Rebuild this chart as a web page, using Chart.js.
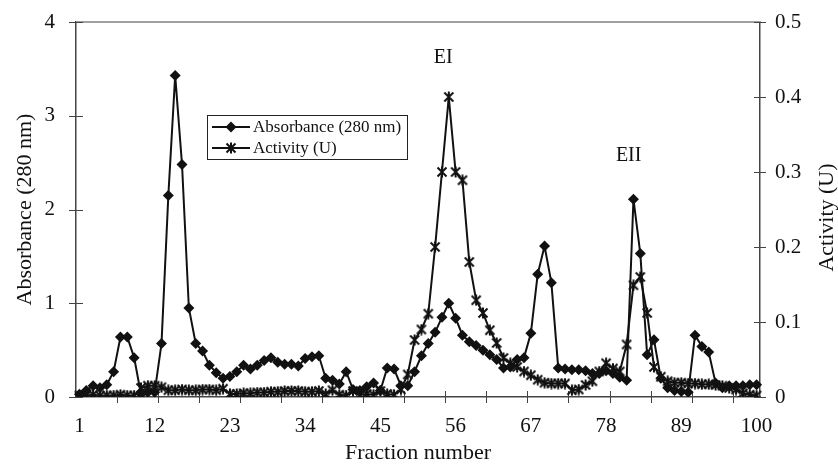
<!DOCTYPE html>
<html>
<head>
<meta charset="utf-8">
<script src="https://cdn.jsdelivr.net/npm/chart.js@4/dist/chart.umd.min.js"></script>
<style>
  html, body { margin: 0; padding: 0; background: #fff; }
  #wrap { width: 838px; height: 468px; position: relative; }
</style>
</head>
<body>
<div id="wrap"><canvas id="chart"></canvas></div>
<script>
// fraction numbers 1..100 (category axis)
const fractions = Array.from({ length: 100 }, (_, i) => i + 1);
const xTickLabels = [1, 12, 23, 34, 45, 56, 67, 78, 89, 100];
const absTicks = [0, 1, 2, 3, 4];
const actTicks = [0, 0.1, 0.2, 0.3, 0.4, 0.5];

// Absorbance at 280 nm
const absorbance = [
  0.03, 0.07, 0.12, 0.10, 0.13, 0.27, 0.64, 0.64, 0.42, 0.03,
  0.05, 0.05, 0.57, 2.15, 3.43, 2.48, 0.95, 0.57, 0.49, 0.34,
  0.26, 0.20, 0.22, 0.27, 0.34, 0.30, 0.34, 0.39, 0.42, 0.37,
  0.35, 0.35, 0.33, 0.41, 0.43, 0.44, 0.20, 0.18, 0.14, 0.27,
  0.08, 0.07, 0.11, 0.15, 0.07, 0.31, 0.30, 0.12, 0.12, 0.27,
  0.44, 0.57, 0.69, 0.85, 1.00, 0.84, 0.66, 0.59, 0.55, 0.50,
  0.45, 0.40, 0.31, 0.32, 0.40, 0.42, 0.68, 1.31, 1.61, 1.22,
  0.31, 0.30, 0.29, 0.29, 0.28, 0.25, 0.25, 0.28, 0.25, 0.21,
  0.18, 2.11, 1.53, 0.45, 0.61, 0.20, 0.10, 0.07, 0.06, 0.05,
  0.66, 0.54, 0.48, 0.15, 0.10, 0.12, 0.12, 0.12, 0.13, 0.13
];

// Enzyme activity (U)
const activity = [
  0.002, 0.002, 0.003, 0.002, 0.002, 0.002, 0.003, 0.002, 0.002, 0.012,
  0.015, 0.015, 0.013, 0.009, 0.009, 0.010, 0.009, 0.009, 0.010, 0.010,
  0.009, 0.011, 0.004, 0.004, 0.005, 0.005, 0.006, 0.006, 0.007, 0.007,
  0.008, 0.008, 0.008, 0.007, 0.007, 0.008, 0.004, 0.009, 0.003, 0.002,
  0.008, 0.003, 0.004, 0.003, 0.008, 0.004, 0.003, 0.010, 0.030, 0.076,
  0.090, 0.111, 0.200, 0.300, 0.400, 0.300, 0.289, 0.180, 0.129, 0.112,
  0.089, 0.072, 0.052, 0.045, 0.040, 0.034, 0.029, 0.023, 0.019, 0.018,
  0.018, 0.018, 0.009, 0.010, 0.016, 0.021, 0.034, 0.045, 0.038, 0.034,
  0.070, 0.149, 0.160, 0.112, 0.040, 0.027, 0.021, 0.019, 0.019, 0.018,
  0.018, 0.017, 0.017, 0.016, 0.015, 0.012, 0.010, 0.005, 0.003, 0.002
];

// peak labels: category index and absorbance height
const peakLabels = [
  { text: 'EI', index: 53.2, abs: 3.62 },
  { text: 'EII', index: 80.3, abs: 2.57 }
];
const rightTitle = 'Activity (U)';

const serif = "'Liberation Serif', 'DejaVu Serif', serif";
const ink = '#111';
const axisColor = '#444';

// excel-like star marker: X with a vertical bar
function starMarker() {
  const c = document.createElement('canvas');
  c.width = 12; c.height = 12;
  const g = c.getContext('2d');
  g.strokeStyle = ink;
  g.lineWidth = 2;
  g.beginPath();
  g.moveTo(1.5, 1.5); g.lineTo(10.5, 10.5);
  g.moveTo(10.5, 1.5); g.lineTo(1.5, 10.5);
  g.moveTo(6, 0.5); g.lineTo(6, 11.5);
  g.stroke();
  return c;
}
const star = starMarker();

// keep the y tick labels from pushing the plot area down
function fixY(width) {
  return s => { s.width = width; s.paddingTop = 0; s.paddingBottom = 0; };
}

// crossing tick marks, light top frame, labels and legend
const frame = {
  id: 'frame',
  beforeDatasetsDraw(chart) {
    const { ctx, chartArea: a, scales: { x, y, y2 } } = chart;
    ctx.save();
    ctx.strokeStyle = '#a0a0a0';
    ctx.lineWidth = 2;
    ctx.beginPath();
    ctx.moveTo(a.left, a.top);
    ctx.lineTo(a.right, a.top);
    ctx.stroke();
    ctx.strokeStyle = axisColor;
    ctx.lineWidth = 1;
    ctx.beginPath();
    for (let b = 6; b < 100; b += 6) {
      const px = Math.round(x.getPixelForValue(b - 0.5)) + 0.5;
      ctx.moveTo(px, a.bottom - 6);
      ctx.lineTo(px, a.bottom + 6);
    }
    absTicks.forEach(v => {
      const py = Math.round(y.getPixelForValue(v)) + 0.5;
      ctx.moveTo(a.left - 7, py);
      ctx.lineTo(a.left + 7, py);
    });
    actTicks.forEach(v => {
      const py = Math.round(y2.getPixelForValue(v)) + 0.5;
      ctx.moveTo(a.right - 6, py);
      ctx.lineTo(a.right + 6, py);
    });
    ctx.stroke();
    ctx.restore();
  },
  afterDraw(chart) {
    const { ctx, chartArea: a, scales: { x, y } } = chart;
    ctx.save();
    ctx.fillStyle = ink;
    ctx.textAlign = 'center';
    ctx.textBaseline = 'middle';
    // peak names
    ctx.font = '20px ' + serif;
    peakLabels.forEach(p => {
      ctx.fillText(p.text, x.getPixelForValue(p.index), y.getPixelForValue(p.abs));
    });
    // right axis title, reading bottom to top
    ctx.save();
    ctx.font = '22px ' + serif;
    ctx.translate(a.right + 67, (a.top + a.bottom) / 2 + 8);
    ctx.rotate(-Math.PI / 2);
    ctx.fillText(rightTitle, 0, 0);
    ctx.restore();
    // legend box
    const lx = a.left + 131, ly = a.top + 93, lw = 200, lh = 44;
    ctx.strokeStyle = '#222';
    ctx.lineWidth = 1;
    ctx.strokeRect(lx + 0.5, ly + 0.5, lw, lh);
    ctx.font = '17px ' + serif;
    ctx.textAlign = 'left';
    chart.data.datasets.forEach((ds, i) => {
      const ry = ly + 12 + i * 21;
      ctx.strokeStyle = ink;
      ctx.lineWidth = 2;
      ctx.beginPath();
      ctx.moveTo(lx + 5, ry);
      ctx.lineTo(lx + 43, ry);
      ctx.stroke();
      ctx.fillStyle = ink;
      Chart.helpers.drawPoint(ctx, {
        pointStyle: ds.pointStyle, radius: ds.pointRadius, rotation: 0, borderWidth: 0
      }, lx + 24, ry);
      ctx.fillStyle = ink;
      ctx.fillText(ds.label, lx + 46, ry + 1);
    });
    ctx.restore();
  }
};

new Chart(document.getElementById('chart'), {
  type: 'line',
  data: {
    labels: fractions,
    datasets: [
      {
        label: 'Absorbance (280 nm)',
        data: absorbance,
        yAxisID: 'y',
        borderColor: ink,
        borderWidth: 2,
        pointStyle: 'rectRot',
        pointRadius: 5.5,
        pointBackgroundColor: ink,
        pointBorderWidth: 0,
        tension: 0
      },
      {
        label: 'Activity (U)',
        data: activity,
        yAxisID: 'y2',
        borderColor: ink,
        borderWidth: 2,
        pointStyle: star,
        pointRadius: 5,
        tension: 0
      }
    ]
  },
  options: {
    responsive: true,
    maintainAspectRatio: false,
    animation: false,
    layout: { padding: { top: 22, left: 0, right: 0, bottom: 0 } },
    plugins: { legend: { display: false }, tooltip: { enabled: false } },
    scales: {
      x: {
        type: 'category',
        offset: true,
        grid: { display: false, drawTicks: false },
        border: { display: true, color: axisColor, width: 1.5 },
        ticks: {
          autoSkip: false,
          maxRotation: 0,
          padding: 17,
          color: ink,
          font: { family: serif, size: 21 },
          callback: (v, i) => xTickLabels.includes(fractions[i]) ? String(fractions[i]) : null
        },
        title: {
          display: true, text: 'Fraction number', color: ink,
          font: { family: serif, size: 22 }, padding: { top: 0, bottom: 2 }
        },
        afterFit: s => { s.height = 71; s.paddingLeft = 0; s.paddingRight = 0; }
      },
      y: {
        position: 'left',
        min: 0, max: 4,
        grid: { display: false, drawTicks: false },
        border: { display: true, color: axisColor, width: 1.5 },
        afterBuildTicks: s => { s.ticks = absTicks.map(v => ({ value: v })); },
        ticks: { padding: 21, color: ink, font: { family: serif, size: 21 } },
        title: {
          display: true, text: 'Absorbance (280 nm)', color: ink,
          font: { family: serif, size: 22 }, padding: { top: 12, bottom: 0 }
        },
        afterFit: fixY(76)
      },
      y2: {
        position: 'right',
        min: 0, max: 0.5,
        grid: { display: false, drawTicks: false },
        border: { display: true, color: axisColor, width: 1.5 },
        afterBuildTicks: s => { s.ticks = actTicks.map(v => ({ value: v })); },
        ticks: {
          padding: 15, color: ink, font: { family: serif, size: 21 },
          callback: v => String(+v.toFixed(1))
        },
        afterFit: fixY(78)
      }
    }
  },
  plugins: [frame]
});
</script>
</body>
</html>
